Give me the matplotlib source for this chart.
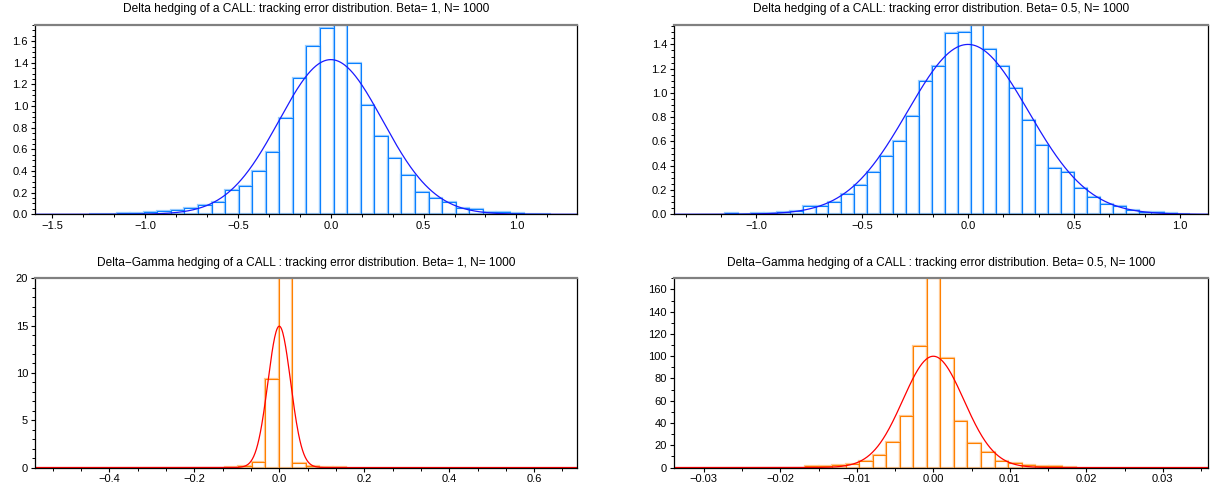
import numpy as np
import matplotlib
matplotlib.use("Agg")
import matplotlib.pyplot as plt
from matplotlib.ticker import MultipleLocator, AutoMinorLocator, FuncFormatter

plt.rcParams["font.family"] = ["Liberation Sans", "DejaVu Sans"]

# --- data: histogram densities, first bin edge, bin width, fitted normal ---
delta_b1_heights = [0.005, 0.0, 0.01, 0.01, 0.02, 0.03, 0.04, 0.06, 0.085, 0.11, 0.22, 0.26,
                    0.40, 0.58, 0.89, 1.26, 1.56, 1.72, 1.75, 1.40, 1.01, 0.72, 0.52, 0.36,
                    0.21, 0.15, 0.11, 0.06, 0.045, 0.02, 0.02, 0.01, 0.005, 0.005]
delta_b1_start, delta_b1_width = -1.3008, 0.0731
delta_b1_mu, delta_b1_sigma = 0.0, 0.279

delta_b05_heights = [0.008, 0.0, 0.008, 0.01, 0.02, 0.025, 0.066, 0.07, 0.10, 0.167, 0.24, 0.35,
                     0.48, 0.60, 0.807, 1.10, 1.22, 1.49, 1.504, 1.56, 1.36, 1.225, 1.04, 0.774,
                     0.568, 0.379, 0.346, 0.22, 0.14, 0.082, 0.069, 0.036, 0.019, 0.016, 0.008, 0.003]
delta_b05_start, delta_b05_width = -1.147, 0.061
delta_b05_mu, delta_b05_sigma = 0.0, 0.285

gamma_b1_heights = [0.05, 0.15, 0.6, 9.4, 20.0, 0.45, 0.15, 0.1, 0.1]
gamma_b1_start, gamma_b1_width = -0.1283, 0.0317
gamma_b1_mu, gamma_b1_sigma = 0.0, 0.0267

gamma_b05_heights = [1.2, 1.8, 2.5, 3.5, 6.0, 11.0, 22.5, 46.5, 109.0, 170.0, 98.5, 42.0,
                     22.0, 13.5, 6.0, 4.2, 2.0, 1.8, 1.2, 0.8]
gamma_b05_start, gamma_b05_width = -0.01678, 0.00177
gamma_b05_mu, gamma_b05_sigma = 0.0, 0.00399

titles = [
    "Delta hedging of a CALL: tracking error distribution. Beta= 1, N= 1000",
    "Delta hedging of a CALL: tracking error distribution. Beta= 0.5, N= 1000",
    "Delta\u2212Gamma hedging of a CALL : tracking error distribution. Beta= 1, N= 1000",
    "Delta\u2212Gamma hedging of a CALL : tracking error distribution. Beta= 0.5, N= 1000",
]


def fmt(decimals):
    # scilab style labels with a real minus sign
    return FuncFormatter(lambda v, pos: f"{v:.{decimals}f}".replace("-", "\u2212")
                         if abs(v) > 1e-12 else f"{0:.{decimals}f}")


def draw_panel(ax, heights, start, width, mu, sigma, title, xlim, xmajor, xminor, xdec,
               ymajor, yminor, ydec, dark, light, curve):
    edges = start + width * np.arange(len(heights))
    ax.bar(edges, heights, width=width, align="edge", fill=False, edgecolor=light, linewidth=1.6)
    ax.bar(edges, heights, width=width, align="edge", fill=False, edgecolor=dark, linewidth=0.75)

    xs = np.linspace(xlim[0], xlim[1], 800)
    ys = np.exp(-0.5 * ((xs - mu) / sigma) ** 2) / (sigma * np.sqrt(2 * np.pi))
    ax.plot(xs, ys, color=curve, linewidth=0.9)

    ax.set_xlim(*xlim)
    ax.set_ylim(0, max(heights))
    ax.set_title(title, fontsize=8.6, pad=9)

    ax.xaxis.set_major_locator(MultipleLocator(xmajor))
    ax.xaxis.set_minor_locator(AutoMinorLocator(xminor))
    ax.xaxis.set_major_formatter(fmt(xdec))
    ax.yaxis.set_major_locator(MultipleLocator(ymajor))
    ax.yaxis.set_minor_locator(AutoMinorLocator(yminor))
    ax.yaxis.set_major_formatter(fmt(ydec))
    ax.tick_params(which="major", direction="out", length=3, width=0.8, labelsize=8, pad=2)
    ax.tick_params(which="minor", direction="out", length=2, width=0.7)

    for side in ["left", "bottom", "right"]:
        ax.spines[side].set_color("black")
        ax.spines[side].set_linewidth(0.9)
    ax.spines["top"].set_color("#808080")
    ax.spines["top"].set_linewidth(1.6)


fig = plt.figure(figsize=(12.16, 4.90), dpi=100)
ax1 = fig.add_axes([0.0288, 0.5627, 0.4461, 0.3863])
ax2 = fig.add_axes([0.5543, 0.5627, 0.4391, 0.3863])
ax3 = fig.add_axes([0.0288, 0.0459, 0.4461, 0.3861])
ax4 = fig.add_axes([0.5543, 0.0459, 0.4391, 0.3861])

blue, light_blue, curve_blue = "#0a80ff", "#99ccff", "#1a1aff"
orange, light_orange, curve_red = "#ff8000", "#ffc890", "#ff0000"

draw_panel(ax1, delta_b1_heights, delta_b1_start, delta_b1_width, delta_b1_mu, delta_b1_sigma,
           titles[0], (-1.594, 1.329), 0.5, 3, 1, 0.2, 4, 1, blue, light_blue, curve_blue)
draw_panel(ax2, delta_b05_heights, delta_b05_start, delta_b05_width, delta_b05_mu, delta_b05_sigma,
           titles[1], (-1.388, 1.133), 0.5, 3, 1, 0.2, 4, 1, blue, light_blue, curve_blue)
draw_panel(ax3, gamma_b1_heights, gamma_b1_start, gamma_b1_width, gamma_b1_mu, gamma_b1_sigma,
           titles[2], (-0.575, 0.702), 0.2, 3, 1, 5, 5, 0, orange, light_orange, curve_red)
draw_panel(ax4, gamma_b05_heights, gamma_b05_start, gamma_b05_width, gamma_b05_mu, gamma_b05_sigma,
           titles[3], (-0.0339, 0.0359), 0.01, 2, 2, 20, 2, 0, orange, light_orange, curve_red)

fig.savefig("out.png", dpi=100)
plt.close(fig)
